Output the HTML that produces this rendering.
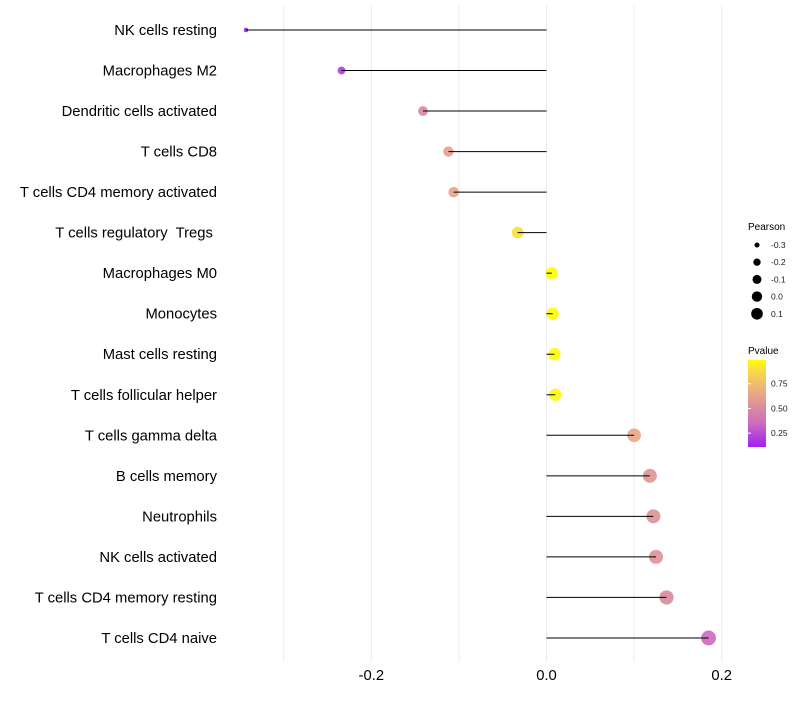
<!DOCTYPE html>
<html><head><meta charset="utf-8"><style>
body{margin:0;background:#fff;font-family:"Liberation Sans",sans-serif}
svg text{font-family:"Liberation Sans",sans-serif;white-space:pre}
</style></head><body>
<svg id="chart" width="800" height="700" xmlns="http://www.w3.org/2000/svg">
<defs><linearGradient id="pgrad" x1="0" y1="1" x2="0" y2="0">
<stop offset="0" stop-color="#A020F0"/><stop offset="0.27" stop-color="#CC6CC0"/><stop offset="0.44" stop-color="#D88AA0"/><stop offset="0.61" stop-color="#E8A888"/><stop offset="0.9" stop-color="#F8E040"/><stop offset="1" stop-color="#FFFF00"/>
</linearGradient></defs>
<g id="grid"></g>
<g id="marks"></g>
<g id="ylabels"></g>
<g id="xlabels"></g>
<g>
<text x="748" y="230" font-size="10">Pearson</text>
<g id="sizeleg"></g>
</g>
<g>
<text x="748" y="354" font-size="10">Pvalue</text>
<rect x="748" y="360" width="18" height="87" fill="url(#pgrad)"/>
<g id="colleg"></g>
</g>
</svg>
<script>
const categories=["NK cells resting","Macrophages M2","Dendritic cells activated","T cells CD8","T cells CD4 memory activated","T cells regulatory  Tregs ","Macrophages M0","Monocytes","Mast cells resting","T cells follicular helper","T cells gamma delta","B cells memory","Neutrophils","NK cells activated","T cells CD4 memory resting","T cells CD4 naive"];
const pearson=[-0.343,-0.234,-0.141,-0.112,-0.106,-0.033,0.006,0.007,0.009,0.010,0.100,0.118,0.122,0.125,0.137,0.185];
const pvalues=[0.1,0.2,0.5,0.62,0.63,0.9,0.99,0.99,0.99,0.99,0.65,0.56,0.55,0.55,0.5,0.35];
const xTicks=[-0.2,0.0,0.2];
const xTickLabels=["-0.2","0.0","0.2"];
const sizeLegendVals=[-0.3,-0.2,-0.1,0.0,0.1];
const pLegendVals=[0.25,0.5,0.75];
const NS="http://www.w3.org/2000/svg";
const x=v=>546.5+v*876;
const y=i=>30+i*40.53;
const pmin=-0.343,pmax=0.185;
const r=v=>Math.sqrt(5+Math.max(0,(v-pmin)/(pmax-pmin))*50);
const stops=[[0.1,[160,32,240]],[0.35,[204,108,192]],[0.5,[216,138,160]],[0.65,[232,168,136]],[0.9,[248,224,64]],[1,[255,255,0]]];
function col(p){for(let k=0;k<stops.length-1;k++){const[a,ca]=stops[k],[b,cb]=stops[k+1];if(p<=b||k==stops.length-2){const t=Math.max(0,Math.min(1,(p-a)/(b-a)));return`rgb(${ca.map((c,j)=>Math.round(c+(cb[j]-c)*t)).join(',')})`;}}}
function mk(tag,at,parent){const e=document.createElementNS(NS,tag);for(const k in at)e.setAttribute(k,at[k]);parent.appendChild(e);return e;}
const grid=document.getElementById('grid'),marks=document.getElementById('marks'),yl=document.getElementById('ylabels'),xl=document.getElementById('xlabels');
[-0.3,-0.2,-0.1,0,0.1,0.2].forEach(g=>{const l=mk('line',{x1:x(g),x2:x(g),y1:5,y2:662,stroke:'#ebebeb','stroke-width':1},grid);

});
categories.forEach((c,i)=>{
const cc=mk('circle',{cx:x(pearson[i]),cy:y(i),r:r(pearson[i]),fill:col(pvalues[i]),'fill-opacity':0.92},marks);


const s=mk('line',{x1:x(0),x2:x(pearson[i]),y1:y(i),y2:y(i),stroke:'#000','stroke-width':1},marks);


const t=mk('text',{x:217,y:y(i)+5,'text-anchor':'end','font-size':14.8,fill:'#000'},yl);
t.textContent=c;


});
xTicks.forEach((v,i)=>{const t=mk('text',{x:x(v),y:680,'text-anchor':'middle','font-size':14.8,fill:'#000'},xl);t.textContent=xTickLabels[i];

});
const sl=document.getElementById('sizeleg');
sizeLegendVals.forEach((v,i)=>{const cy=245+i*17.2;
const c=mk('circle',{cx:757,cy:cy,r:r(v)*0.85,fill:'#000'},sl);


const t=mk('text',{x:771,y:cy+3,'font-size':8.5,fill:'#1a1a1a'},sl);t.textContent=v.toFixed(1);

});
const cl=document.getElementById('colleg');
pLegendVals.forEach(v=>{const yy=447-(v-0.11)/(0.99-0.11)*87;
const tk=mk('line',{x1:748,x2:751,y1:yy,y2:yy,stroke:'#fff'},cl);


const t=mk('text',{x:771,y:yy+3,'font-size':8.5,fill:'#1a1a1a'},cl);t.textContent=v.toFixed(2);

});
</script>
</body></html>
